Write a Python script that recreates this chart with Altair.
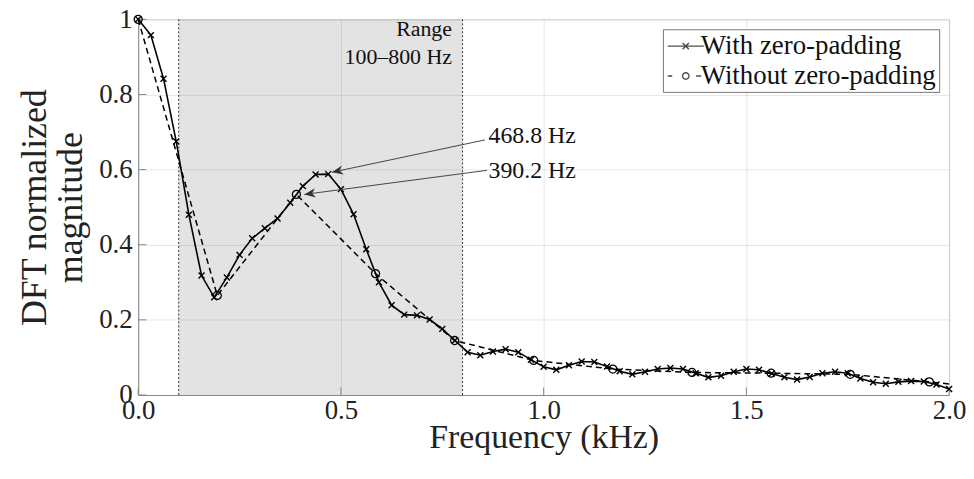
import altair as alt
import pandas as pd

# ---------------- data ----------------
freq_zp = [0.0, 0.03125, 0.0625, 0.09375, 0.125, 0.15625, 0.1875, 0.21875, 0.25, 0.28125,
           0.3125, 0.34375, 0.375, 0.40625, 0.4375, 0.46875, 0.5, 0.53125, 0.5625, 0.59375,
           0.625, 0.65625, 0.6875, 0.71875, 0.75, 0.78125, 0.8125, 0.84375, 0.875, 0.90625,
           0.9375, 0.96875, 1.0, 1.03125, 1.0625, 1.09375, 1.125, 1.15625, 1.1875, 1.21875,
           1.25, 1.28125, 1.3125, 1.34375, 1.375, 1.40625, 1.4375, 1.46875, 1.5, 1.53125,
           1.5625, 1.59375, 1.625, 1.65625, 1.6875, 1.71875, 1.75, 1.78125, 1.8125, 1.84375,
           1.875, 1.90625, 1.9375, 1.96875, 2.0]
mag_zp = [1.000, 0.958, 0.842, 0.675, 0.480, 0.318, 0.260, 0.313, 0.373, 0.417,
          0.444, 0.470, 0.512, 0.556, 0.587, 0.588, 0.548, 0.481, 0.388, 0.300,
          0.239, 0.214, 0.212, 0.201, 0.176, 0.145, 0.114, 0.106, 0.116, 0.122,
          0.114, 0.094, 0.075, 0.067, 0.079, 0.089, 0.088, 0.076, 0.063, 0.055,
          0.062, 0.069, 0.072, 0.069, 0.058, 0.047, 0.051, 0.062, 0.069, 0.067,
          0.057, 0.047, 0.041, 0.048, 0.058, 0.062, 0.058, 0.044, 0.034, 0.030,
          0.035, 0.037, 0.036, 0.028, 0.016]

freq_nz = [0.0, 0.1951, 0.3902, 0.5854, 0.7805, 0.9756, 1.1707, 1.3659, 1.5610, 1.7561, 1.9512, 2.1463]
mag_nz = [1.000, 0.265, 0.534, 0.323, 0.145, 0.092, 0.069, 0.060, 0.058, 0.055, 0.035, 0.012]

range_lo = [0.1]
range_hi = [0.8]
range_label = ["Range", "100\u2013800 Hz"]

ann_text = ["468.8 Hz", "390.2 Hz"]
ann_tip_f = [0.478, 0.410]
ann_tip_m = [0.593, 0.534]
ann_tail_f = [0.855, 0.860]
ann_tail_m = [0.679, 0.598]
ann_text_f = [0.864, 0.864]
ann_text_m = [0.690, 0.597]
ann_angle = [168.1, 172.5]

series_names = ["With zero-padding", "Without zero-padding"]
x_ticks = [0.0, 0.5, 1.0, 1.5, 2.0]
y_ticks = [0.0, 0.2, 0.4, 0.6, 0.8, 1.0]

FONT = "Liberation Serif"

# ---------------- frames ----------------
df_zp = pd.DataFrame({"f": freq_zp, "m": mag_zp})
df_nz = pd.DataFrame({"f": freq_nz, "m": mag_nz})
df_nz_pts = df_nz[df_nz["f"] <= 2.0]
df_range = pd.DataFrame({"lo": range_lo, "hi": range_hi})
df_vlines = pd.DataFrame({"f": range_lo + range_hi})
df_ann = pd.DataFrame({"text": ann_text, "tf": ann_tip_f, "tm": ann_tip_m,
                       "sf": ann_tail_f, "sm": ann_tail_m,
                       "xf": ann_text_f, "xm": ann_text_m, "ang": ann_angle})
df_leg = pd.DataFrame({"series": series_names, "f": [-1.0, -1.0], "m": [0.5, 0.5]})
df_xt = pd.DataFrame({"f": x_ticks})
df_yt = pd.DataFrame({"m": y_ticks})

xscale = alt.Scale(domain=[0, 2], nice=False, zero=False)
yscale = alt.Scale(domain=[0, 1], nice=False, zero=False)

xaxis = alt.Axis(values=x_ticks, format=".1f", title="Frequency (kHz)",
                 labelFontSize=27, titleFontSize=34, labelFont=FONT, titleFont=FONT,
                 titleFontWeight="normal", labelColor="#222", titleColor="#222",
                 ticks=False, labelPadding=3, labelFlush=False, grid=True,
                 gridColor="#000", gridOpacity=0.1,
                 domainColor="#888", titleX=408, titleY=43, titleBaseline="middle")
yaxis = alt.Axis(values=y_ticks, title=["DFT normalized", "magnitude"],
                 labelExpr="datum.value == 0 ? '0' : (datum.value == 1 ? '1' : format(datum.value, '.1f'))",
                 labelFontSize=27, titleFontSize=36, labelFont=FONT, titleFont=FONT,
                 titleFontWeight="normal", labelColor="#222", titleColor="#222",
                 ticks=False, labelPadding=6, labelFlush=False, grid=True,
                 gridColor="#000", gridOpacity=0.1,
                 domainColor="#888", titleAngle=-90, titleX=-104, titleY=189,
                 titleAlign="center", titleBaseline="middle", titleLineHeight=36)


def X(field):
    return alt.X(field, type="quantitative", scale=xscale, axis=xaxis)


def Y(field):
    return alt.Y(field, type="quantitative", scale=yscale, axis=yaxis)


shade = alt.Chart(df_range).mark_rect(color="#000", opacity=0.11).encode(
    x=X("lo"), x2="hi", y=alt.datum(0, type="quantitative", scale=yscale, axis=yaxis), y2=alt.datum(1))

vlines = alt.Chart(df_vlines).mark_rule(color="#333", strokeDash=[2, 2], strokeWidth=1).encode(
    x=X("f"))

xt = alt.Chart(df_xt).mark_rule(color="#888").encode(
    x=X("f"), y=alt.datum(0, type="quantitative", scale=yscale, axis=yaxis), y2=alt.datum(0.02))
yt = alt.Chart(df_yt).mark_rule(color="#888").encode(
    y=Y("m"), x=alt.datum(0, type="quantitative", scale=xscale, axis=xaxis), x2=alt.datum(0.02))

dashed = alt.Chart(df_nz).mark_line(color="black", strokeDash=[6, 4], strokeWidth=1.5, clip=True).encode(
    x=X("f"), y=Y("m"))
solid = alt.Chart(df_zp).mark_line(color="black", strokeWidth=1.6).encode(
    x=X("f"), y=Y("m"))

cross_path = "M-1,-1L1,1M-1,1L1,-1"
crosses = alt.Chart(df_zp).mark_point(shape=cross_path, size=36, color="black",
                                      strokeWidth=1.4, filled=False, opacity=1).encode(
    x=X("f"), y=Y("m"))
circles = alt.Chart(df_nz_pts).mark_point(shape="circle", size=65, color="black",
                                          strokeWidth=1.3, filled=False, opacity=1).encode(
    x=X("f"), y=Y("m"))

arrows = alt.Chart(df_ann).mark_rule(color="#333", strokeWidth=0.9).encode(
    x=X("sf"), y=Y("sm"), x2="tf", y2="tm")
head_path = "M0,0L-1,-0.42L-0.7,0L-1,0.42Z"
heads = alt.Chart(df_ann).mark_point(shape=head_path, size=500, filled=True,
                                     color="#333", opacity=1).encode(
    x=X("tf"), y=Y("tm"), angle=alt.Angle("ang:Q", scale=None))
ann_labels = alt.Chart(df_ann).mark_text(align="left", baseline="middle", font=FONT,
                                         fontSize=24, color="#111").encode(
    x=X("xf"), y=Y("xm"), text="text:N")

range_txt = alt.Chart(pd.DataFrame({"f": [0.774], "m": [0.974], "t": [range_label]})).mark_text(
    align="right", baseline="middle", font=FONT, fontSize=22, color="#111", lineHeight=28).encode(
    x=X("f"), y=Y("m"), text="t")

leg_solid = "M-1.4,0L1.4,0M-0.24,-0.24L0.24,0.24M-0.24,0.24L0.24,-0.24"
leg_dash = ("M-1.4,0L-1.05,0M-0.25,0A0.25,0.25,0,1,1,0.25,0A0.25,0.25,0,1,1,-0.25,0"
            "M0.8,0L1.2,0")
legend_layer = alt.Chart(df_leg).mark_point(clip=True, filled=False, color="black").encode(
    x=X("f"), y=Y("m"),
    shape=alt.Shape("series:N", scale=alt.Scale(domain=series_names, range=[leg_solid, leg_dash]),
                    legend=alt.Legend(title=None, orient="top-right", offset=10, padding=3,
                                      fillColor="white", strokeColor="#777",
                                      labelFont=FONT, labelFontSize=27, labelColor="#111",
                                      labelLimit=400, symbolSize=676, symbolStrokeWidth=1.4,
                                      symbolStrokeColor="black", labelOffset=1, rowPadding=3,
                                      symbolOffset=6)))

chart = alt.layer(shade, xt, yt, vlines, dashed, solid, crosses, circles, arrows, heads,
                  ann_labels, range_txt, legend_layer).properties(
    width=816, height=378,
    autosize=alt.AutoSizeParams(type="none"),
    padding={"left": 131, "top": 10, "right": 17, "bottom": 64},
).configure_view(stroke=None).configure(font=FONT)

chart.save("out.html", embed_options={"renderer": "svg", "actions": False})
